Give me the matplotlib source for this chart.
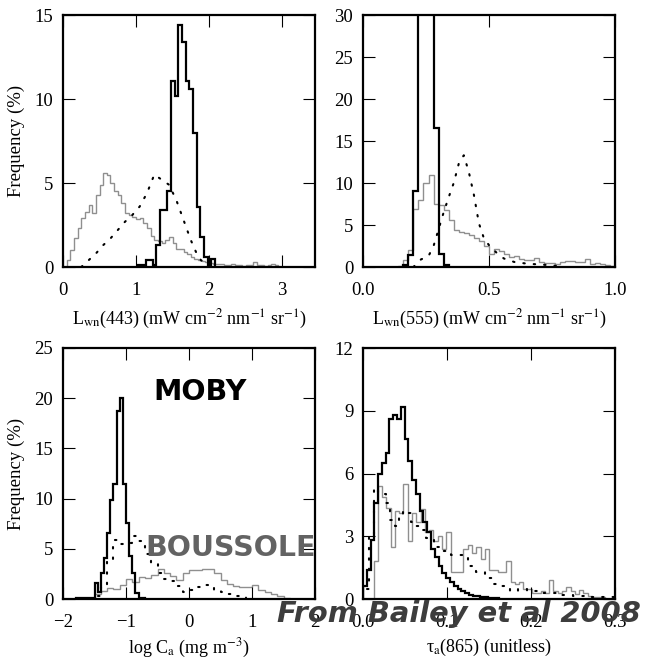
import numpy as np
import matplotlib
matplotlib.use("Agg")
import matplotlib.pyplot as plt

# Frequency distributions of MOBY (black), BOUSSOLE (grey) and the
# global ocean (dotted) for four ocean-colour products

# Lwn(443)
lw443_bin = 0.05
lw443_moby_start = 1.03
lw443_moby = [0.1, 0.1, 0.4, 0.4, 0.1, 1.3, 3.4, 3.4, 4.5, 11.1, 10.2, 14.4,
              13.4, 11.1, 10.6, 8.0, 3.6, 1.8, 0.6, 0.0, 0.5]
lw443_bous_start = 0.05
lw443_bous = [0.4, 1.0, 1.7, 2.3, 2.9, 3.3, 3.7, 3.2, 4.3, 4.9, 5.6, 5.5,
              5.0, 4.5, 4.3, 3.8, 3.2, 3.1, 3.0, 2.85, 2.9, 2.6, 2.3, 1.85,
              1.6, 1.55, 1.4, 1.6, 1.8, 1.4, 1.1, 1.05, 0.9, 0.75, 0.6, 0.5,
              0.4, 0.35, 0.3, 0.25, 0.2, 0.2, 0.15, 0.1, 0.1, 0.15, 0.1, 0.1,
              0.05, 0.1, 0.1, 0.3, 0.1, 0.1, 0.05, 0.1, 0.15, 0.1]
lw443_glob_x = [0.25, 0.35, 0.45, 0.55, 0.65, 0.75, 0.85, 0.95, 1.05, 1.15,
                1.25, 1.35, 1.45, 1.55, 1.65, 1.75, 1.85, 1.95, 2.05]
lw443_glob = [0.0, 0.4, 0.8, 1.3, 1.7, 2.2, 2.7, 3.1, 3.6, 4.4, 5.5, 5.2,
              4.9, 4.0, 2.8, 1.6, 0.6, 0.1, 0.0]

# Lwn(555)
lw555_bin = 0.02
lw555_moby_start = 0.16
lw555_moby = [0.2, 1.4, 9.1, 36.0, 40.0, 34.0, 16.6, 1.6, 0.2]
lw555_bous_start = 0.14
lw555_bous = [0.1, 0.8, 2.0, 6.9, 8.0, 10.0, 11.0, 7.5, 7.4, 6.8, 5.6, 4.4,
              4.2, 4.0, 3.8, 3.5, 3.1, 2.5, 1.6, 2.1, 1.9, 1.6, 1.2, 1.3, 1.0,
              0.8, 0.8, 1.1, 0.6, 0.5, 0.5, 0.4, 0.6, 0.7, 0.7, 0.6, 0.6, 1.0,
              0.4, 0.5, 0.3, 0.2, 0.1]
lw555_glob_x = [0.20, 0.23, 0.26, 0.28, 0.30, 0.32, 0.34, 0.36, 0.38, 0.40,
                0.42, 0.44, 0.46, 0.48, 0.50, 0.52, 0.54, 0.56, 0.60, 0.65,
                0.70, 0.75, 0.80]
lw555_glob = [0.0, 0.9, 1.3, 2.5, 4.5, 6.5, 8.3, 10.0, 12.3, 13.3, 11.3, 8.6,
              5.2, 3.4, 2.6, 2.0, 1.4, 1.0, 0.6, 0.4, 0.3, 0.2, 0.0]

# log Ca
chl_moby_bin = 0.05
chl_moby_start = -1.80
chl_moby = [0.1, 0.1, 0.1, 0.1, 0.1, 0.1, 1.6, 0.7, 2.6, 4.1, 6.6, 9.9, 11.5,
            18.7, 20.0, 11.5, 7.6, 4.3, 2.6, 0.6, 0.1, 0.1]
chl_bous_bin = 0.1
chl_bous_start = -1.5
chl_bous = [0.5, 0.8, 1.1, 1.0, 1.4, 2.0, 1.7, 2.2, 2.1, 2.4, 3.0, 2.6, 2.3,
            1.9, 2.6, 2.9, 2.9, 3.0, 3.0, 2.6, 1.9, 1.5, 1.3, 1.2, 1.2, 1.4,
            0.9, 0.7, 0.5, 0.3, 0.1]
chl_glob_x = [-1.45, -1.35, -1.25, -1.15, -1.05, -0.95, -0.85, -0.75, -0.65,
              -0.55, -0.45, -0.35, -0.25, -0.15, -0.05, 0.05, 0.15, 0.25,
              0.35, 0.45, 0.55, 0.65, 0.75, 0.85, 0.95]
chl_glob = [0.3, 1.2, 3.8, 5.9, 5.5, 5.6, 6.3, 5.8, 4.5, 3.6, 2.6, 2.0, 1.8,
            1.3, 0.7, 0.9, 1.2, 1.4, 1.2, 0.9, 0.7, 0.5, 0.3, 0.2, 0.0]

# tau_a(865)
tau_moby_bin = 0.0045
tau_moby_start = 0.0
tau_moby = [0.6, 1.4, 2.8, 4.6, 6.0, 6.5, 7.0, 8.6, 8.8, 8.6, 9.2, 7.65, 6.6,
            5.7, 5.0, 4.2, 3.7, 3.2, 2.4, 2.0, 1.6, 1.25, 1.0, 0.8, 0.64, 0.5,
            0.4, 0.3, 0.2, 0.15, 0.12, 0.1, 0.08, 0.06, 0.05, 0.03]
tau_bous_bin = 0.0051
tau_bous_start = 0.0125
tau_bous = [1.8, 5.4, 4.9, 4.35, 2.5, 4.2, 4.1, 5.5, 2.75, 4.1, 3.7, 4.3, 3.2,
            3.3, 2.75, 3.0, 2.4, 3.2, 1.3, 1.3, 1.3, 2.4, 2.6, 2.2, 2.5, 1.9,
            2.4, 1.4, 1.4, 1.3, 1.3, 1.8, 0.8, 0.7, 0.8, 0.5, 0.5, 0.3, 0.3,
            0.4, 0.3, 0.9, 0.4, 0.3, 0.4, 0.55, 0.4, 0.25, 0.45, 0.3, 0.15,
            0.1, 0.1, 0.1]
tau_glob_x = [0.005, 0.01, 0.015, 0.02, 0.025, 0.03, 0.035, 0.04, 0.045,
              0.05, 0.055, 0.06, 0.065, 0.07, 0.08, 0.09, 0.10, 0.11, 0.12,
              0.13, 0.14, 0.15, 0.16, 0.17, 0.18, 0.19, 0.20, 0.22, 0.24,
              0.26, 0.28, 0.30]
tau_glob = [0.5, 3.1, 5.3, 5.1, 5.0, 4.6, 3.8, 3.5, 3.9, 4.2, 4.1, 3.7, 3.5,
            3.3, 2.9, 2.5, 2.3, 2.1, 2.1, 1.6, 1.3, 1.0, 0.7, 0.6, 0.4, 0.5,
            0.4, 0.3, 0.2, 0.15, 0.1, 0.1]

plt.rcParams["font.family"] = "Liberation Serif"
plt.rcParams["mathtext.fontset"] = "stix"
plt.rcParams["axes.linewidth"] = 1.6

W, H = 645, 660
fig = plt.figure(figsize=(W / 100, H / 100), dpi=100)


def panel(left, top, right, bottom):
    return fig.add_axes([left / W, 1 - bottom / H, (right - left) / W, (bottom - top) / H])


def edges(start, width, n):
    return start + width * np.arange(n + 1)


def draw(ax, moby, moby_start, moby_bin, bous, bous_start, bous_bin,
         glob_x, glob, steps=False):
    ax.stairs(bous, edges(bous_start, bous_bin, len(bous)), baseline=0,
              color="#8f8f8f", lw=1.0)
    ax.stairs(moby, edges(moby_start, moby_bin, len(moby)), baseline=0,
              color="black", lw=1.6)
    ax.plot(glob_x, glob, color="black", lw=1.5, linestyle=(0, (0.7, 4.3)),
            dash_capstyle="round", drawstyle="steps-mid" if steps else "default")
    ax.tick_params(direction="in", length=8.5, width=0.8, top=True, right=True,
                   labelsize=13.5)
    ax.tick_params(axis="x", pad=11)
    ax.tick_params(axis="y", pad=7)


ax1 = panel(63, 15, 315, 267)
draw(ax1, lw443_moby, lw443_moby_start, lw443_bin, lw443_bous, lw443_bous_start,
     lw443_bin, lw443_glob_x, lw443_glob)
ax1.set_xlim(0, 3.45)
ax1.set_ylim(0, 15)
ax1.set_xticks([0, 1, 2, 3])
ax1.set_yticks([0, 5, 10, 15])
ax1.set_xlabel(r"L$_{\rm wn}$(443) (mW cm$^{-2}$ nm$^{-1}$ sr$^{-1}$)", fontsize=13, labelpad=6)
ax1.set_ylabel("Frequency (%)", fontsize=13.5, labelpad=7)

ax2 = panel(363, 15, 615, 267)
draw(ax2, lw555_moby, lw555_moby_start, lw555_bin, lw555_bous, lw555_bous_start,
     lw555_bin, lw555_glob_x, lw555_glob)
ax2.set_xlim(0, 1)
ax2.set_ylim(0, 30)
ax2.set_xticks([0, 0.5, 1.0], ["0.0", "0.5", "1.0"])
ax2.set_yticks([0, 5, 10, 15, 20, 25, 30])
ax2.set_xlabel(r"L$_{\rm wn}$(555) (mW cm$^{-2}$ nm$^{-1}$ sr$^{-1}$)", fontsize=13, labelpad=6)

ax3 = panel(63, 348, 315, 599)
draw(ax3, chl_moby, chl_moby_start, chl_moby_bin, chl_bous, chl_bous_start,
     chl_bous_bin, chl_glob_x, chl_glob, steps=True)
ax3.set_xlim(-2, 2)
ax3.set_ylim(0, 25)
ax3.set_xticks([-2, -1, 0, 1, 2])
ax3.set_yticks([0, 5, 10, 15, 20, 25])
ax3.set_xlabel(r"log C$_{\rm a}$ (mg m$^{-3}$)", fontsize=13, labelpad=4)
ax3.set_ylabel("Frequency (%)", fontsize=13.5, labelpad=7)

ax4 = panel(363, 348, 615, 599)
draw(ax4, tau_moby, tau_moby_start, tau_moby_bin, tau_bous, tau_bous_start,
     tau_bous_bin, tau_glob_x, tau_glob, steps=True)
ax4.set_xlim(0, 0.3)
ax4.set_ylim(0, 12)
ax4.set_xticks([0, 0.1, 0.2, 0.3], ["0.0", "0.1", "0.2", "0.3"])
ax4.set_yticks([0, 3, 6, 9, 12])
ax4.set_xlabel(r"τ$_{\rm a}$(865) (unitless)", fontsize=13, labelpad=4)

# site labels and source note on top of the panels
fig.text(199.7 / W, 1 - 400 / H, "MOBY", family="DejaVu Sans", weight="bold",
         fontsize=20.5, color="black", ha="center", va="baseline")
fig.text(230.5 / W, 1 - 556.5 / H, "BOUSSOLE", family="DejaVu Sans", weight="bold",
         fontsize=20.5, color="#636363", ha="center", va="baseline")
fig.text(459 / W, 1 - 621.5 / H, "From Bailey et al 2008", family="DejaVu Sans",
         weight="bold", style="italic", fontsize=20.8, color="#3d3d3d",
         ha="center", va="baseline")

fig.savefig("out.png", dpi=100)
